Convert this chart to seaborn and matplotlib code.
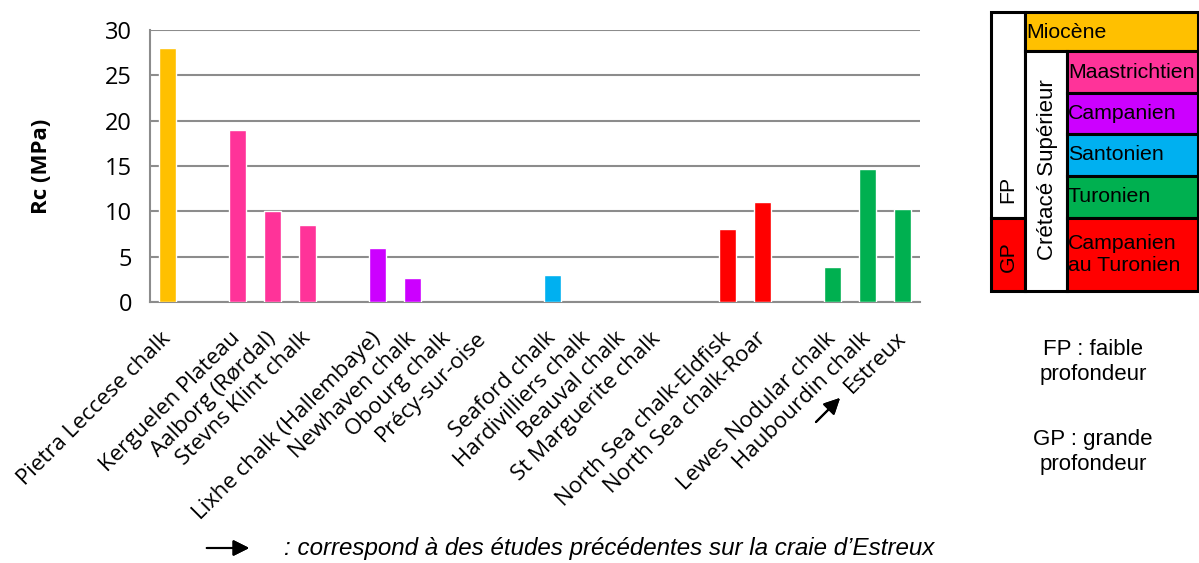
import numpy as np
import pandas as pd
import matplotlib
matplotlib.use("Agg")
import matplotlib.pyplot as plt
import seaborn as sns
from matplotlib.patches import Rectangle

sns.set_style("white")
plt.rcParams["font.family"] = ["Open Sans", "DejaVu Sans"]
plt.rcParams["text.color"] = "black"
plt.rcParams["xtick.color"] = "black"
plt.rcParams["ytick.color"] = "black"
plt.rcParams["axes.labelcolor"] = "black"

# data
sites = ["Pietra Leccese chalk",
         "Kerguelen Plateau", "Aalborg (Rørdal)", "Stevns Klint chalk",
         "Lixhe chalk (Hallembaye)", "Newhaven chalk", "Obourg chalk", "Précy-sur-oise",
         "Seaford chalk", "Hardivilliers chalk", "Beauval chalk", "St Marguerite chalk",
         "North Sea chalk-Eldfisk", "North Sea chalk-Roar",
         "Lewes Nodular chalk", "Haubourdin chalk", "Estreux"]
rc = [28.0,
      19.0, 10.0, 8.5,
      6.0, 2.7, np.nan, np.nan,
      3.0, np.nan, np.nan, np.nan,
      8.0, 11.0,
      3.9, 14.7, 10.3]
stage = ["Miocène",
         "Maastrichtien", "Maastrichtien", "Maastrichtien",
         "Campanien", "Campanien", "Campanien", "Campanien",
         "Santonien", "Santonien", "Santonien", "Santonien",
         "GP", "GP",
         "Turonien", "Turonien", "Turonien"]
stage_colors = {"Miocène": "#FFC000", "Maastrichtien": "#FF3399",
                "Campanien": "#CC00FF", "Santonien": "#00B0F0",
                "Turonien": "#00B050", "GP": "#FF0000"}

df = pd.DataFrame({"site": sites, "rc": rc, "stage": stage})

# empty slot between groups
order = []
prev = None
for s, g in zip(sites, stage):
    if prev is not None and g != prev:
        order.append(" " * (len(order) + 1))
    order.append(s)
    prev = g

fig = plt.figure(figsize=(11.99, 5.63), dpi=100)
ax = fig.add_axes([0.1251, 0.4636, 0.6422, 0.4831])

palette = {s: stage_colors[g] for s, g in zip(sites, stage)}
sns.barplot(data=df.dropna(), x="site", y="rc", hue="site", order=order,
            palette=palette, width=0.5, legend=False, ax=ax, zorder=3,
            saturation=1)

grey = "#8c8c8c"
ax.set_ylim(0, 30)
ax.set_xlim(-0.5, len(order) - 0.5)
ax.set_yticks(range(0, 31, 5))
ax.yaxis.grid(True, color=grey, lw=1.5, zorder=0)
ax.set_axisbelow(True)
for side in ["top", "right"]:
    ax.spines[side].set_visible(False)
for side in ["left", "bottom"]:
    ax.spines[side].set_color(grey)
    ax.spines[side].set_linewidth(1.5)

ax.set_xticks(range(len(order)))
ax.set_xticklabels([o if o.strip() else "" for o in order], rotation=45,
                   ha="right", va="center", rotation_mode="anchor", fontsize=16)
ax.set_xticks(np.arange(-0.5, len(order)), minor=True)
ax.tick_params(axis="x", which="major", length=0, pad=24)
ax.tick_params(axis="x", which="minor", length=8, width=1.5, color=grey)
ax.tick_params(axis="y", length=7, width=1.5, color=grey, labelsize=17, pad=6)
ax.set_xlabel("")
ax.set_ylabel("Rc (MPa)", fontsize=16, fontweight="bold")
ax.yaxis.set_label_coords(-0.127, 0.5)


def fx(x):
    return x / 1199


def fy(y):
    return 1 - y / 563


def cell(x0, y0, x1, y1, color):
    fig.add_artist(Rectangle((fx(x0), fy(y1)), fx(x1) - fx(x0), fy(y0) - fy(y1),
                             facecolor=color, edgecolor="black", lw=2.2,
                             transform=fig.transFigure))


arial = ["Liberation Sans", "DejaVu Sans"]
fs = 15.3
# stratigraphy table
cell(991, 12, 1025, 218, "white")
cell(991, 218, 1025, 291, "#FF0000")
cell(1025, 12, 1198, 51, "#FFC000")
cell(1025, 51, 1067, 291, "white")
rows = [("Maastrichtien", 51, 93), ("Campanien", 93, 134),
        ("Santonien", 134, 176), ("Turonien", 176, 218),
        ("Campanien\nau Turonien", 218, 291)]
for name, y0, y1 in rows:
    col = stage_colors["GP"] if "\n" in name else stage_colors[name]
    cell(1067, y0, 1198, y1, col)
    fig.text(fx(1068), fy((y0 + y1) / 2), name, ha="left", va="center",
             fontsize=fs, family=arial, linespacing=1.25)
fig.text(fx(1026), fy(32), "Miocène", ha="left", va="center", fontsize=fs, family=arial)
fig.text(fx(1008), fy(189), "FP", rotation=90, ha="center", va="center", fontsize=fs, family=arial)
fig.text(fx(1008), fy(257), "GP", rotation=90, ha="center", va="center", fontsize=fs, family=arial)
fig.text(fx(1047), fy(170), "Crétacé Supérieur", rotation=90, ha="center", va="center",
         fontsize=16, family=arial)

fig.text(fx(1093), fy(362), "FP : faible\nprofondeur", ha="center", va="center",
         fontsize=16, family=arial, linespacing=1.3)
fig.text(fx(1093), fy(452), "GP : grande\nprofondeur", ha="center", va="center",
         fontsize=16, family=arial, linespacing=1.3)

# arrows and note
arrow = dict(arrowstyle="-|>", color="black", lw=1.5, mutation_scale=24)
fig.add_artist(plt.annotate("", xy=(fx(252), fy(548)), xytext=(fx(204), fy(548)),
                            xycoords="figure fraction", arrowprops=arrow))
fig.add_artist(plt.annotate("", xy=(fx(842), fy(396)), xytext=(fx(814), fy(424)),
                            xycoords="figure fraction", arrowprops=arrow))
fig.text(fx(284), fy(548), ": correspond à des études précédentes sur la craie d\u2019Estreux",
         ha="left", va="center", fontsize=17.4, style="italic", family=arial)

fig.savefig("out.png", dpi=100)
